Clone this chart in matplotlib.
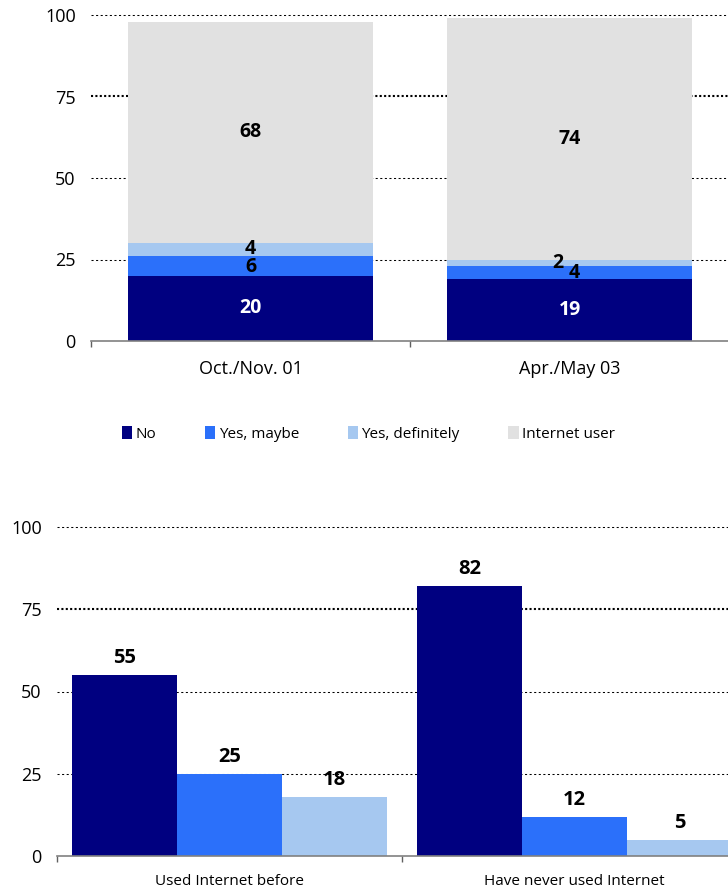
import matplotlib
matplotlib.use('agg')
import matplotlib.pyplot as plt
from matplotlib.patches import Patch
import numpy as np

plt.rcParams['font.family'] = ['Open Sans', 'DejaVu Sans']

# top chart: stacked shares per survey wave
waves = ['Oct./Nov. 01', 'Apr./May 03']
no_vals = [20, 19]
maybe_vals = [6, 4]
definitely_vals = [4, 2]
user_vals = [68, 74]

# bottom chart: grouped by prior internet experience
groups = ['Used Internet before', 'Have never used Internet']
grp_no = [55, 82]
grp_maybe = [25, 12]
grp_definitely = [18, 5]

series_names = ['No', 'Yes, maybe', 'Yes, definitely', 'Internet user']
colors = ['#000080', '#2b70fa', '#a6c8f0', '#e1e1e1']

W, H = 728, 894
fig = plt.figure(figsize=(W / 100, H / 100), dpi=100)


def style_axis(ax, xpad):
    for s in ['left', 'right', 'top']:
        ax.spines[s].set_visible(False)
    ax.spines['bottom'].set_color('#808080')
    ax.spines['bottom'].set_linewidth(1.2)
    ax.set_ylim(0, 100)
    ax.set_yticks([0, 25, 50, 75, 100])
    ax.tick_params(axis='y', length=0, pad=11, labelsize=13)
    ax.set_xlim(-0.5, 1.5)
    ax.set_xticks([0, 1])
    ax.set_xticks([-0.5, 0.5], minor=True)
    ax.tick_params(axis='x', which='major', length=0, pad=xpad)
    ax.tick_params(axis='x', which='minor', length=4, color='#606060', width=1)
    ax.set_axisbelow(True)
    for v in [25, 50, 75, 100]:
        if v == 75:
            ax.axhline(v, color='black', lw=1.5, ls=(0, (1, 1.1)), zorder=0)
        else:
            ax.axhline(v, color='black', lw=0.75, ls=(0, (2, 2.4)), zorder=0,
                       clip_on=False)


# ---- top chart
ax1 = fig.add_axes([91 / W, 1 - 341 / H, 638 / W, 326 / H])
style_axis(ax1, 14)
x = np.arange(len(waves))
bw = 0.768
bottom = np.zeros(len(waves))
stack = [no_vals, maybe_vals, definitely_vals, user_vals]
# horizontal / vertical nudges for labels of thin segments (px)
nudge = {(1, 1): (5, 0), (2, 1): (-12, 0), (2, 0): (0, 1), (1, 0): (0, -1)}
for i, vals in enumerate(stack):
    ax1.bar(x, vals, bw, bottom=bottom, color=colors[i], zorder=2)
    for j, v in enumerate(vals):
        dx, dy = nudge.get((i, j), (0, 0))
        ax1.text(x[j] + dx / 319, bottom[j] + v / 2 + dy / 3.26, str(v),
                 ha='center', va='center', fontsize=14, fontweight='bold',
                 color='white' if i == 0 else 'black', zorder=3)
    bottom += np.array(vals)
ax1.set_xticklabels(waves, fontsize=13)

# legend
handles = [Patch(facecolor=c, edgecolor='none') for c in colors]
fig.legend(handles, series_names, loc='center left',
           bbox_to_anchor=(122 / W, 1 - 434 / H), ncol=4, frameon=False,
           fontsize=11, handlelength=0.68, handleheight=0.9,
           handletextpad=0.2, columnspacing=3.2, borderpad=0,
           borderaxespad=0)

# ---- bottom chart
ax2 = fig.add_axes([57 / W, 1 - 856 / H, 690 / W, 329 / H])
style_axis(ax2, 13)
gw = 0.304
for k, vals in enumerate([grp_no, grp_maybe, grp_definitely]):
    pos = x + (k - 1) * gw
    ax2.bar(pos, vals, gw, color=colors[k], zorder=2)
    for p, v in zip(pos, vals):
        ax2.annotate(str(v), (p, v), xytext=(0, 5), textcoords='offset points',
                     ha='center', va='bottom', fontsize=14.5, fontweight='bold')
ax2.set_xticklabels(groups, fontsize=11)

fig.savefig('out.png', dpi=100)
